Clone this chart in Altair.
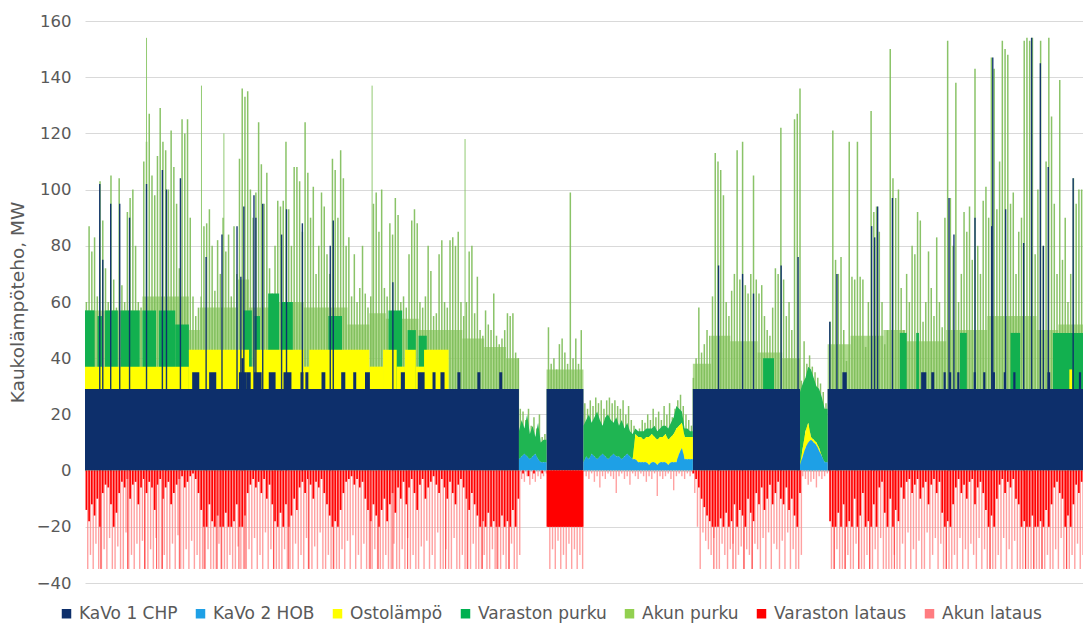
import altair as alt
import pandas as pd

NAMES = ["KaVo 1 CHP", "KaVo 2 HOB", "Ostolämpö", "Varaston purku",
         "Akun purku", "Varaston lataus", "Akun lataus"]
COLORS = ["#0d2f6b", "#1ea0e6", "#ffff00", "#00b050", "#92d050", "#ff0000", "#ff7c80"]
FONT = "DejaVu Sans"
GRAY = "#595959"

# x = day of year, y = MW
CHP_RUNS = [(0.0, 158.7), (168.8, 182.3), (222.3, 261.5), (271.6, 365.0)]
CHP_BASE = 29
CHP_NOTCHES = [
    (39.2, 41.8, 35), (45.4, 48, 35), (56.3, 59.2, 35), (57.2, 58, 40), (59.2, 60.6, 35),
    (61.8, 64.6, 35), (67.2, 69.7, 35), (72.6, 75.5, 35), (78.8, 79.9, 35), (80.6, 81.7, 35),
    (86.5, 87.9, 35), (93.7, 95.2, 35), (98.1, 99.2, 35), (102.4, 104.2, 35), (115.5, 117, 35),
    (121.7, 124.2, 35), (127.1, 128.2, 35), (130, 131.5, 35), (136.2, 137.3, 35),
    (143.5, 144.6, 35), (151.5, 152.6, 35),
    (277, 278.6, 35), (305.8, 307.7, 35), (309.5, 310.6, 35), (314, 314.8, 35), (316, 316.8, 35),
    (319, 319.8, 35), (325, 325.8, 35), (328.5, 329.3, 35), (332, 332.8, 35), (336, 336.8, 35),
    (339.5, 340.3, 35), (352, 353, 35), (363.5, 364.3, 35)]
CHP_SPIKES = [
    (5.4, 102), (6.5, 75), (9.4, 95), (12.7, 95), (16.3, 90), (22.5, 102), (28.3, 107),
    (29.8, 100), (34.9, 104), (44.3, 76), (50.1, 84), (55.6, 87), (57, 69), (58.1, 94),
    (61.8, 98), (62.5, 90), (65, 95), (71.9, 84), (73.7, 93), (79.5, 88), (89.7, 80),
    (90.8, 89), (112.6, 67),
    (231.7, 73), (240.5, 70), (244.5, 63), (254.6, 73), (260.8, 76),
    (272.4, 53), (275, 70), (287.7, 87), (288.8, 83), (289.9, 94), (295.3, 97), (316, 97),
    (317.8, 84), (325.5, 90), (331.6, 87), (332, 147), (336.7, 93), (343.3, 81), (346.2, 154),
    (349.4, 145), (350.5, 80), (352.3, 108), (361.4, 104)]

OSTO_RUNS = [(0, 38, 37), (38, 60, 43), (60, 62, 37), (62, 80, 43), (80, 82, 37), (82, 104, 43),
             (104, 109, 37), (109, 114, 43), (114, 117, 37), (117, 121, 43), (121, 124, 37),
             (124, 133, 43), (360, 361, 36)]
VPURKU_RUNS = [(0, 3.5, 57), (4.6, 6.2, 55), (7.3, 12, 57), (13, 20, 57), (21, 26, 57),
               (27, 33, 57), (33, 38, 52), (58, 61, 57), (62, 64, 55), (67, 71, 63), (72, 76, 60),
               (89, 94, 55), (111, 116, 57), (118, 121, 50), (122, 125, 48), (248, 252, 40),
               (298, 300.5, 49), (304, 305, 49), (320, 322.5, 49), (338.5, 342, 49), (354, 365, 49)]
AKUN_BODY_RUNS = [
    (0, 21, 57), (21, 38, 62), (38, 42, 50), (42, 56, 58), (56, 60, 68), (60, 68, 58), (68, 80, 60),
    (80, 96, 58), (96, 104, 52), (104, 110, 56), (110, 122, 54), (122, 138, 50), (138, 146, 47),
    (146, 154, 44), (154, 158.7, 40),
    (168.8, 182.3, 36),
    (222.3, 229, 38), (229, 236, 48), (236, 246, 46), (246, 255, 42), (255, 261.5, 40),
    (271.6, 280, 45), (280, 292, 48), (292, 300, 50), (300, 315, 46), (315, 330, 50),
    (330, 348, 55), (348, 356, 50), (356, 365, 52)]

# daily peak of total output (top of Akun purku)
A_PEAK = """60 87 78 83 62 103 89 72 60 105 68 58 104 66 60 92 97 100 80 60
58 110 117 127 105 98 112 129 117 114 100 121 108 95 72 125 120 125 90 62
55 58 62 87 88 93 80 64 82 70 90 78 84 62 87 70 111 136 133 135
100 90 99 124 109 95 106 72 63 80 96 94 96 117 93 80 108 108 103 85
124 106 90 101 70 80 99 94 77 70 111 107 90 114 104 80 83 62 77 60
65 80 63 58 62 95 99 85 100 65 62 88 84 97 91 60 62 58 77 89
93 88 60 58 62 80 71 55 56 77 82 60 58 82 83 80 85 60 55 60
78 80 56 69 50 48 57 52 50 63 48 45 47 50 56 55 56 42 40"""
C_PEAK = "51 38 40 36 45 47 42 38 99 40 47 38 50"
E_PEAK = """33 40 58 42 45 50 48 62 113 110 107 98 60 55 64 70 114 68 117 66
63 70 105 68 63 66 55 50 48 58 72 70 122 68 55 60 50 125 127 136"""
G_PEAK = """53 121 75 70 76 50 39 117 69 68 117 69 68 44 60 128 92 94 85 60
45 50 150 104 97 100 65 50 70 60 80 77 92 89 53 60 78 65 55 83
60 51 90 153 97 80 138 60 70 92 85 94 75 143 80 70 96 101 90 147
143 93 110 153 150 148 95 99 70 85 90 153 154 153 154 77 100 153 80 110
154 126 95 70 139 75 90 60 70 104 95 100 100"""
THIN_SPIKES = [(22.5, 154), (42.6, 137), (50.8, 120), (105.0, 137), (139.0, 118)]

# periods without CHP: daily values (MW)
GAPS = {"B": (158.7, 168.8), "D": (182.3, 222.3), "F": (261.5, 271.6)}
B_HOB = "4 5 6 5 4 5 6 4 3 3"
B_OSTO = "0 0 0 0 0 0 0 0 0 0"
B_VP = "10 13 9 15 9 11 6 13 7 8"
B_PEAK = "22 21 18 22 16 19 15 20 12 13"
D_HOB = """3 5 4 6 5 4 5 6 5 4 5 6 5 5 4 5 6 5 4 4
3 3 3 3 2 3 3 2 3 3 3 2 3 3 3 6 8 4 4 4"""
D_OSTO = """0 0 0 0 0 0 0 0 0 0 0 0 0 0 0 0 0 0 0 9
9 9 8 9 10 10 9 9 9 9 10 9 9 10 12 10 9 8 8 8"""
D_VP = """13 13 16 11 14 17 13 10 14 16 13 11 14 11 14 10 11 9 9 2
2 2 3 3 3 2 4 3 3 4 3 4 5 6 8 6 4 3 3 2"""
D_PEAK = """24 22 25 23 26 24 25 22 25 26 24 25 23 22 25 20 23 18 16 14
15 18 17 20 18 22 19 21 18 23 20 24 19 22 25 27 23 20 18 16"""
F_HOB = "2 5 8 10 11 10 9 7 5 3"
F_OSTO = "0 3 6 7 1 1 1 1 0 0"
F_VP = "26 23 19 20 24 22 20 21 21 19"
F_PEAK = "32 46 38 41 37 35 33 31 28 24"

# charging (negative): daily Varaston lataus depth and Akun lataus bottom
A_RED = """-14 -18 -12 -16 -10 -20 -8 -5 -6 -12 -20 -15 -8 -4 -6 -3 -10 -5 -4 -12
-6 -3 -8 -4 -6 -14 -5 -3 -10 -6 -4 -12 -8 -5 -3 -2 -6 -4 -2 -1
-3 -8 -14 -20 -20 -12 -18 -20 -16 -20 -20 -15 -20 -20 -18 -12 -20 -20 -16 -8
-5 -3 -6 -4 -8 -3 -10 -5 -12 -18 -20 -15 -20 -12 -20 -16 -10 -14 -6 -4
-8 -3 -5 -10 -4 -6 -3 -8 -12 -16 -20 -18 -20 -14 -8 -4 -3 -2 -5 -3
-6 -4 -10 -14 -18 -12 -16 -20 -14 -10 -18 -12 -8 -15 -6 -10 -4 -12 -6 -3
-8 -14 -5 -3 -10 -6 -4 -2 -5 -8 -3 -6 -10 -4 -8 -12 -5 -3 -6 -10
-14 -8 -12 -16 -20 -18 -20 -15 -20 -18 -20 -20 -16 -20 -18 -20 -14 -20 -10"""
A_PINK = """-35 -30 -35 -26 -35 -35 -28 -35 -24 -35 -35 -27 -35 -35 -22 -35 -30 -35 -26 -35
-25 -35 -35 -28 -35 -24 -35 -35 -30 -35 -35 -26 -35 -23 -35 -35 -28 -35 -25 -35
-30 -35 -35 -35 -28 -35 -35 -35 -26 -35 -35 -35 -30 -35 -35 -27 -35 -35 -35 -28
-35 -24 -35 -30 -35 -22 -35 -28 -35 -35 -35 -35 -28 -35 -35 -35 -26 -35 -30 -35
-24 -35 -35 -27 -35 -22 -35 -35 -30 -35 -35 -35 -35 -28 -35 -25 -35 -23 -35 -30
-35 -26 -35 -35 -35 -28 -35 -35 -35 -30 -35 -35 -26 -35 -35 -28 -35 -24 -35 -30
-35 -35 -27 -35 -25 -35 -30 -35 -22 -35 -35 -28 -35 -35 -24 -35 -35 -30 -35 -35
-35 -26 -35 -35 -35 -30 -35 -35 -28 -35 -35 -35 -30 -35 -35 -26 -35 -35 -30"""
B_RED = "0 -1 0 -2 0 -1 0 0 -1 0"
B_PINK = "-3 -4 -2 -5 -3 -4 -2 -3 -2 -1"
C_RED = "-20 -20 -20 -20 -20 -20 -20 -20 -20 -20 -20 -20 -20"
C_PINK = "-35 -28 -35 -25 -35 -30 -35 -26 -35 -28 -35 -30 -35"
D_PINK = """-2 -3 -1 -4 -2 -6 -2 -3 -1 -2 -3 -8 -2 -1 -3 -2 -5 -1 -2 -3
-1 -2 -4 -2 -3 -1 -9 -2 -3 -2 -1 -3 -7 -2 -1 -2 -3 -1 -2 -1"""
E_RED = """-1 -3 -6 -10 -13 -16 -18 -20 -20 -20 -17 -20 -15 -20 -18 -12 -20 -14 -16 -20
-10 -15 -18 -8 -12 -6 -14 -10 -5 -12 -8 -4 -10 -12 -6 -14 -10 -16 -20 -8"""
E_PINK = """-8 -20 -35 -22 -25 -28 -30 -24 -35 -35 -26 -30 -35 -28 -26 -35 -30 -27 -35 -28
-30 -35 -26 -28 -35 -24 -35 -22 -35 -26 -28 -35 -25 -35 -22 -35 -28 -35 -35 -30"""
F_PINK = "-2 -3 -5 -4 -3 -6 -2 -3 -2 -1"
G_RED = """-18 -20 -20 -15 -20 -12 -20 -18 -20 -10 -20 -16 -8 -20 -18 -20 -12 -20 -6 -4
-15 -20 -10 -20 -14 -18 -6 -10 -4 -3 -8 -5 -3 -10 -6 -4 -12 -5 -3 -8
-4 -15 -20 -18 -20 -12 -6 -3 -8 -5 -10 -4 -3 -12 -6 -4 -8 -14 -20 -16
-20 -10 -5 -3 -8 -4 -6 -3 -10 -12 -20 -18 -20 -20 -16 -20 -20 -18 -20 -14
-20 -12 -6 -4 -8 -10 -20 -16 -20 -12 -5 -8 -4"""
G_PINK = """-35 -35 -28 -35 -35 -35 -30 -35 -35 -26 -35 -35 -35 -30 -35 -35 -28 -35 -24 -35
-35 -35 -35 -30 -35 -35 -26 -35 -22 -35 -28 -35 -25 -35 -35 -22 -35 -30 -24 -35
-26 -35 -35 -35 -35 -30 -35 -24 -35 -28 -35 -26 -30 -35 -24 -35 -28 -35 -35 -35
-35 -30 -35 -24 -35 -28 -35 -25 -35 -35 -35 -35 -35 -35 -35 -35 -35 -35 -35 -30
-35 -35 -28 -35 -24 -35 -35 -35 -30 -35 -26 -35 -30"""
C_RED_BLOCK = [(168.8, 182.3, -20)]
RED_LONG = [5.8, 15.6, 21.8, 26.2, 28.3, 34.5, 43.6, 48.3, 49.8, 56.3, 58.5, 69, 74.5, 81.7,
            90.8, 104.3, 107.2, 112.6, 118, 131.9, 139.8, 145.3, 150.7, 155.1,
            230, 237, 241, 244, 274, 278, 283, 287, 296, 315, 331, 344, 347, 350, 359]
PINK_FLOOR = -35


def nums(s):
    return [float(v) for v in s.split()]


XS = alt.Scale(domain=[0, 365], nice=False, zero=False)
YS = alt.Scale(domain=[-40, 160], nice=False, zero=False)
YAX = alt.Axis(values=list(range(-40, 161, 20)), title="Kaukolämpöteho, MW", grid=True,
               gridColor="#d9d9d9", gridWidth=1, domain=False, ticks=False,
               labelFontSize=16.5, labelColor=GRAY, labelFont=FONT, labelPadding=14,
               titleFontSize=18.5, titleColor=GRAY, titleFont=FONT, titleFontWeight="normal",
               titlePadding=9)


def rect_layer(rows, color, opacity=1.0, legend=False):
    df = pd.DataFrame(rows, columns=["x1", "x2", "y1", "y2", "series"])
    enc = dict(x=alt.X("x1:Q", scale=XS, axis=None), x2="x2:Q",
               y=alt.Y("y1:Q", scale=YS, axis=YAX), y2="y2:Q")
    if legend:
        enc["color"] = alt.Color("series:N", scale=alt.Scale(domain=NAMES, range=COLORS),
                                 legend=alt.Legend(orient="none", legendX=-27, legendY=584,
                                                   direction="horizontal", columns=7, title=None,
                                                   symbolType="square", symbolSize=90,
                                                   symbolStrokeWidth=0, labelFont=FONT,
                                                   labelFontSize=17, labelColor=GRAY,
                                                   labelOffset=4, columnPadding=14))
        return alt.Chart(df).mark_rect(opacity=opacity).encode(**enc)
    return alt.Chart(df).mark_rect(color=color, opacity=opacity).encode(**enc)


def rule_layer(rows, color, width, opacity=1.0):
    df = pd.DataFrame(rows, columns=["x", "y0", "y1"])
    return alt.Chart(df).mark_rule(color=color, strokeWidth=width, opacity=opacity).encode(
        x=alt.X("x:Q", scale=XS, axis=None), y=alt.Y("y0:Q", scale=YS, axis=YAX), y2="y1:Q")


# ---- positive side ----
body = rect_layer([(a, b, 0, t, "Akun purku") for a, b, t in AKUN_BODY_RUNS], "#8fca62", 0.7)

peak_rows = []
for start, s in [(0, A_PEAK), (169, C_PEAK), (222, E_PEAK), (272, G_PEAK),
                 (GAPS["B"][0], B_PEAK), (GAPS["D"][0], D_PEAK), (GAPS["F"][0], F_PEAK)]:
    for i, v in enumerate(nums(s)):
        peak_rows.append((start + i + 0.5, 0, v))
peaks = rule_layer(peak_rows, "#7dbd58", 1.5, 0.9)
thin = rule_layer([(d, 0, v) for d, v in THIN_SPIKES], "#86c463", 1.0, 0.9)

vpurku = rect_layer([(a, b, CHP_BASE, t, "Varaston purku") for a, b, t in VPURKU_RUNS], "#12b04f")
osto = rect_layer([(a, b, CHP_BASE, t, "Ostolämpö") for a, b, t in OSTO_RUNS], "#ffff00")
chp_sp = rule_layer([(d, 0, v) for d, v in CHP_SPIKES], "#0d2f6b", 1.4, 0.95)
chp = rect_layer([(a, b, 0, CHP_BASE, "KaVo 1 CHP") for a, b in CHP_RUNS], None, legend=True)
notch = rect_layer([(a, b, CHP_BASE, t, "KaVo 1 CHP") for a, b, t in CHP_NOTCHES], "#0d2f6b")

gap_rows = []
for seg, hob_s, osto_s, vp_s in [("B", B_HOB, B_OSTO, B_VP), ("D", D_HOB, D_OSTO, D_VP),
                                 ("F", F_HOB, F_OSTO, F_VP)]:
    start, end = GAPS[seg]
    hob, ost, vp = nums(hob_s), nums(osto_s), nums(vp_s)
    xs = [start + i for i in range(len(hob))] + [end]
    hob, ost, vp = hob + hob[-1:], ost + ost[-1:], vp + vp[-1:]
    for x, h, o, v in zip(xs, hob, ost, vp):
        gap_rows.append(dict(seg=seg, x=x, zero=0, h=h, o=h + o, v=h + o + v))
gdf = pd.DataFrame(gap_rows)


def gap_area(lo, hi, color):
    return alt.Chart(gdf).mark_area(color=color, interpolate="linear").encode(
        x=alt.X("x:Q", scale=XS, axis=None), y=alt.Y(f"{lo}:Q", scale=YS, axis=YAX),
        y2=f"{hi}:Q", detail="seg:N")


g_vp = gap_area("o", "v", "#1fb552")
g_osto = gap_area("h", "o", "#ffff00")
g_hob = gap_area("zero", "h", "#1ea0e6")

# ---- negative side ----
red_rows, pink_rows = [], []
for start, rs, ps in [(0, A_RED, A_PINK), (GAPS["B"][0], B_RED, B_PINK), (169, C_RED, C_PINK),
                      (GAPS["D"][0], None, D_PINK), (222, E_RED, E_PINK),
                      (GAPS["F"][0], None, F_PINK), (272, G_RED, G_PINK)]:
    pink = nums(ps)
    red = nums(rs) if rs else [0.0] * len(pink)
    for i, (r, p) in enumerate(zip(red, pink)):
        if r < 0:
            red_rows.append((start + i + 0.5, 0, r))
        pink_rows.append((start + i + 1.0, 0, p))
pinks = rule_layer(pink_rows, "#ff8a8a", 1.4, 0.8)
reds = rule_layer(red_rows, "#ff0000", 1.7, 1.0)
red_long = rule_layer([(d, 0, PINK_FLOOR) for d in RED_LONG], "#ff3b3b", 1.0, 0.9)
red_block = rect_layer([(a, b, 0, t, "Varaston lataus") for a, b, t in C_RED_BLOCK], "#ff0000")

chart = alt.layer(
    body, peaks, thin, vpurku, osto, chp_sp, chp, notch,
    g_vp, g_osto, g_hob, pinks, reds, red_long, red_block
).properties(
    width=998, height=562,
    autosize=alt.AutoSizeParams(type="none"),
    padding={"left": 77, "top": 13, "right": 0, "bottom": 40},
    background="white",
).configure_view(stroke=None)

chart.save("out.html", embed_options={"renderer": "svg", "actions": False})
